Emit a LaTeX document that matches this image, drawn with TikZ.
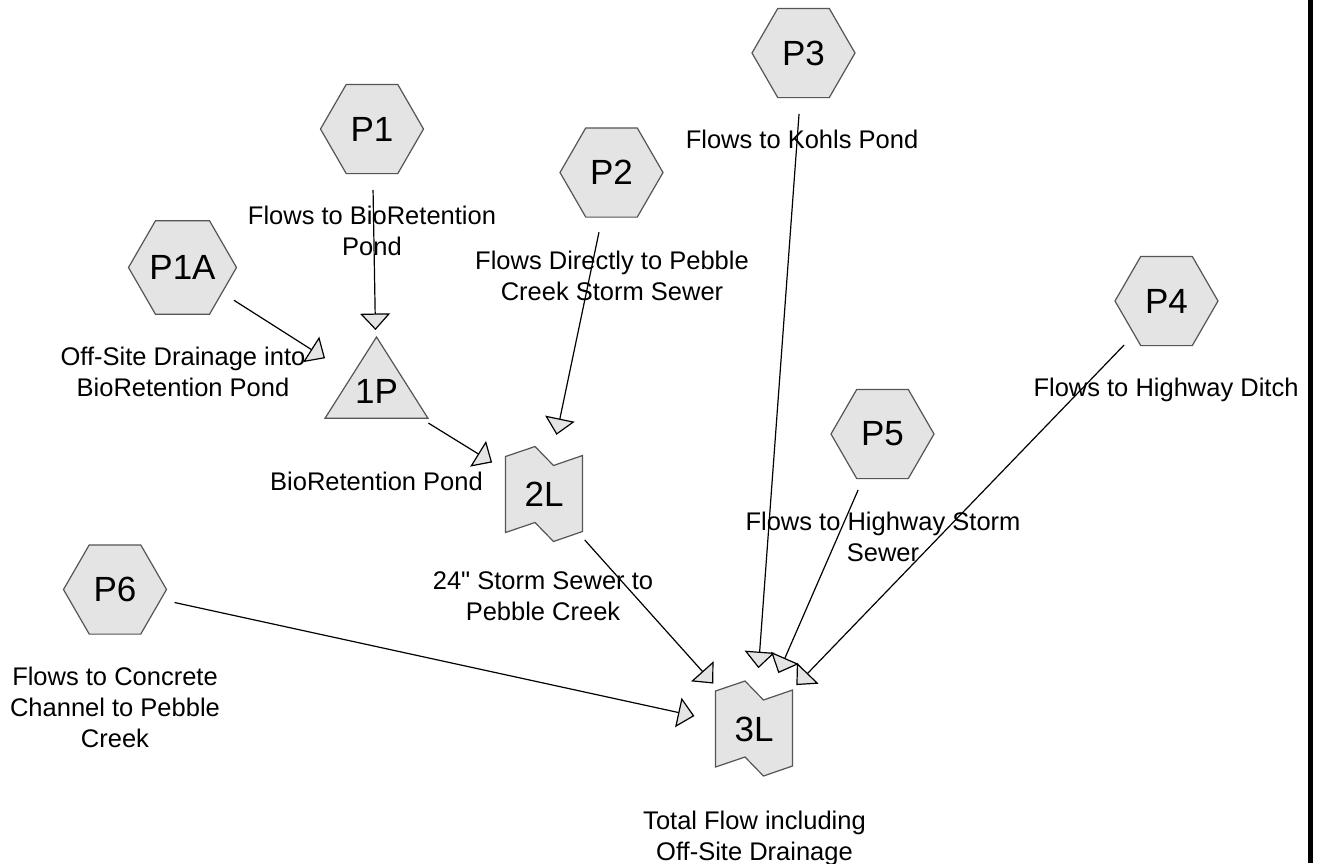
\documentclass[tikz,border=0pt]{standalone}
\usepackage{fontspec}
\newfontfamily\arialfont{Liberation Sans}
\usetikzlibrary{shapes.geometric,arrows.meta}
\definecolor{nodefill}{RGB}{228,228,228}
\definecolor{nodeline}{RGB}{85,85,85}
\begin{document}
\begin{tikzpicture}[x=1pt,y=-1pt,
  hexnode/.style={regular polygon, regular polygon sides=6, minimum size=103pt, inner sep=0pt,
    draw=nodeline, line width=1.2pt, fill=nodefill, font=\arialfont\fontsize{35}{40}\selectfont},
  plaintext/.style={inner sep=0pt, font=\arialfont\fontsize{35}{40}\selectfont},
  shapeline/.style={draw=nodeline, line width=1.2pt, fill=nodefill, line join=miter},
  lbl/.style={inner sep=0pt, align=center, anchor=north, font=\arialfont\fontsize{25.5}{31}\selectfont},
  flow/.style={line width=1.2pt, shorten <=61pt, shorten >=61pt,
    -{Triangle[length=16.5pt,width=30pt,fill=nodefill]}}
]
\useasboundingbox (0,0) rectangle (1317,863);
\fill[white] (0,0) rectangle (1317,863);
\fill[black] (1308,0) rectangle (1313,863);

% hexagon subcatchments
\node[hexnode] (P1) at (372,129) {P1};
\node[hexnode] (P2) at (611.5,172.5) {P2};
\node[hexnode] (P3) at (803.5,53) {P3};
\node[hexnode] (P1A) at (182.5,267.5) {P1A};
\node[hexnode] (P4) at (1166.5,301) {P4};
\node[hexnode] (P5) at (882.5,434) {P5};
\node[hexnode] (P6) at (115,589.5) {P6};

% pond 1P
\coordinate (c1P) at (376.5,391);
\draw[shapeline, shift={(c1P)}] (0,-54) -- (51.5,27.3) -- (-51.5,27.3) -- cycle;
\node[plaintext] (1P) at (c1P) {1P};

% links 2L and 3L
\coordinate (c2L) at (544,494.5);
\draw[shapeline, shift={(c2L)}] (-38.5,-38) -- (-9,-48) -- (9.5,-29) -- (38.5,-39)
  -- (38.5,37) -- (9.5,47) -- (-9,28) -- (-38.5,38) -- cycle;
\node[plaintext] (2L) at (c2L) {2L};

\coordinate (c3L) at (754,729);
\draw[shapeline, shift={(c3L)}] (-38.5,-38) -- (-9,-48) -- (9.5,-29) -- (38.5,-39)
  -- (38.5,37) -- (9.5,47) -- (-9,28) -- (-38.5,38) -- cycle;
\node[plaintext] (3L) at (c3L) {3L};

% connectors
\draw[flow] (P1.center) -- (c1P);
\draw[flow] (P1A.center) -- (c1P);
\draw[flow] (c1P) -- (c2L);
\draw[flow] (P2.center) -- (c2L);
\draw[flow] (c2L) -- (c3L);
\draw[flow] (P6.center) -- (c3L);
\draw[flow] (P3.center) -- (c3L);
\draw[flow] (P5.center) -- (c3L);
\draw[flow] (P4.center) -- (c3L);

% labels
\node[lbl] (lP1) at (372,205.5) {Flows to BioRetention\\Pond};
\node[lbl] (lP2) at (612,250.5) {Flows Directly to Pebble\\Creek Storm Sewer};
\node[lbl] (lP3) at (802,129.5) {Flows to Kohls Pond};
\node[lbl] (lP1A) at (183,346.5) {Off-Site Drainage into\\BioRetention Pond};
\node[lbl] (lP4) at (1166,378) {Flows to Highway Ditch};
\node[lbl] (l1P) at (376.5,471.5) {BioRetention Pond};
\node[lbl] (lP5) at (883,512) {Flows to Highway Storm\\Sewer};
\node[lbl] (l2L) at (543,571.5) {24" Storm Sewer to\\Pebble Creek};
\node[lbl] (lP6) at (115,666.5) {Flows to Concrete\\Channel to Pebble\\Creek};
\node[lbl] (l3L) at (754.5,810.5) {Total Flow including\\Off-Site Drainage};
\end{tikzpicture}
\end{document}
